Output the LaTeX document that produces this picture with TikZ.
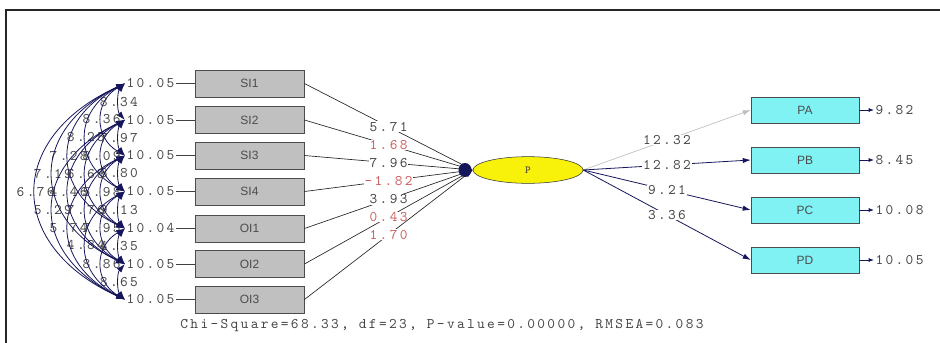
\documentclass[tikz,border=0pt]{standalone}
\usepackage{fontspec}
\setmainfont{Liberation Sans}
\newfontfamily\lisfont[LetterSpace=16]{Latin Modern Mono}
\usetikzlibrary{arrows.meta,shapes.geometric}

\definecolor{lisnavy}{RGB}{22,22,92}
\definecolor{lisgray}{RGB}{70,70,70}
\definecolor{lisred}{RGB}{205,95,95}
\definecolor{obsfill}{RGB}{192,192,192}
\definecolor{indfill}{RGB}{128,242,244}
\definecolor{latfill}{RGB}{248,242,10}

\tikzset{
  obsbox/.style={draw=black!70, fill=obsfill, minimum width=82pt, minimum height=20pt, inner sep=0pt, font=\fontsize{9}{10}\selectfont, text=black!70},
  indbox/.style={draw=black!70, fill=indfill, minimum width=81pt, minimum height=19.5pt, inner sep=0pt, font=\fontsize{9}{10}\selectfont, text=black!70},
  latent/.style={ellipse, draw=black!80, fill=latfill, minimum width=82.5pt, minimum height=20pt, inner sep=0pt, font=\lisfont\fontsize{8}{9}\selectfont, text=black!75},
  errlbl/.style={font=\lisfont\fontsize{11}{12}\selectfont, text=lisgray, inner sep=1pt},
  pathlbl/.style={font=\lisfont\fontsize{11}{12}\selectfont, text=lisgray, fill=white, inner sep=0.5pt},
  redlbl/.style={pathlbl, text=lisred},
  covlbl/.style={font=\lisfont\fontsize{11}{12}\selectfont, text=lisgray, inner sep=0pt},
  covarc/.style={draw=lisnavy, line width=0.6pt, {Latex[length=6.5pt,width=4.5pt]}-{Latex[length=6.5pt,width=4.5pt]}},
  formarrow/.style={draw=black!85, line width=0.5pt, -{Latex[length=6pt,width=4pt]}, color=black!85},
  loadarrow/.style={draw=lisnavy, line width=0.6pt, -{Latex[length=6pt,width=4pt]}}
}

\begin{document}
\begin{tikzpicture}[x=0.75pt,y=0.75pt,yscale=-1,xscale=1]
\useasboundingbox (0,0) rectangle (940,343);

%Frame
\draw [line width=1.5pt, color=black!85] (940,10) -- (6,10) -- (6,343) ;

%Shape: Rectangle (observed)
\node [obsbox] (si1) at (249.5,83.5) {SI1};
\node [obsbox] (si2) at (249.5,120) {SI2};
\node [obsbox] (si3) at (249.5,155.5) {SI3};
\node [obsbox] (si4) at (249.5,191.5) {SI4};
\node [obsbox] (oi1) at (249.5,228.5) {OI1};
\node [obsbox] (oi2) at (249.5,264) {OI2};
\node [obsbox] (oi3) at (249.5,299.5) {OI3};

%Shape: Rectangle (indicators)
\node [indbox] (pa) at (805,110) {PA};
\node [indbox] (pb) at (805,160) {PB};
\node [indbox] (pc) at (805,210) {PC};
\node [indbox] (pd) at (805,260) {PD};

%Shape: Ellipse
\node [latent] (p) at (528,170) {P};

% Text Node (error variances, left)
\node [errlbl, anchor=east] (e1) at (176,83.5) {10.05};
\node [errlbl, anchor=east] (e2) at (176,120) {10.05};
\node [errlbl, anchor=east] (e3) at (176,155.5) {10.05};
\node [errlbl, anchor=east] (e4) at (176,191.5) {10.05};
\node [errlbl, anchor=east] (e5) at (176,228.5) {10.04};
\node [errlbl, anchor=east] (e6) at (176,264) {10.05};
\node [errlbl, anchor=east] (e7) at (176,299.5) {10.05};

\draw [color=black!75] (e1.east) -- (si1.west) ;
\draw [color=black!75] (e2.east) -- (si2.west) ;
\draw [color=black!75] (e3.east) -- (si3.west) ;
\draw [color=black!75] (e4.east) -- (si4.west) ;
\draw [color=black!75] (e5.east) -- (oi1.west) ;
\draw [color=black!75] (e6.east) -- (oi2.west) ;
\draw [color=black!75] (e7.east) -- (oi3.west) ;

%Curves (error covariances)
\draw [covarc] (e1.west) .. controls +(-8,9) and +(-8,-9) .. (e2.west) node [covlbl, pos=0.5] {8.34};
\draw [covarc] (e2.west) .. controls +(-8,9) and +(-8,-9) .. (e3.west) node [covlbl, pos=0.5] {7.97};
\draw [covarc] (e3.west) .. controls +(-8,9) and +(-8,-9) .. (e4.west) node [covlbl, pos=0.5] {8.80};
\draw [covarc] (e4.west) .. controls +(-8,9) and +(-8,-9) .. (e5.west) node [covlbl, pos=0.5] {9.13};
\draw [covarc] (e5.west) .. controls +(-8,9) and +(-8,-9) .. (e6.west) node [covlbl, pos=0.5] {4.35};
\draw [covarc] (e6.west) .. controls +(-8,9) and +(-8,-9) .. (e7.west) node [covlbl, pos=0.5] {8.65};
\draw [covarc] (e1.west) .. controls +(-31,18) and +(-31,-18) .. (e3.west) node [covlbl, pos=0.5] {8.36};
\draw [covarc] (e2.west) .. controls +(-31,18) and +(-31,-18) .. (e4.west) node [covlbl, pos=0.5] {8.09};
\draw [covarc] (e3.west) .. controls +(-31,18) and +(-31,-18) .. (e5.west) node [covlbl, pos=0.5] {5.98};
\draw [covarc] (e4.west) .. controls +(-31,18) and +(-31,-18) .. (e6.west) node [covlbl, pos=0.5] {7.95};
\draw [covarc] (e5.west) .. controls +(-31,18) and +(-31,-18) .. (e7.west) node [covlbl, pos=0.5] {8.86};
\draw [covarc] (e1.west) .. controls +(-52,27) and +(-52,-27) .. (e4.west) node [covlbl, pos=0.5] {8.25};
\draw [covarc] (e2.west) .. controls +(-52,27) and +(-52,-27) .. (e5.west) node [covlbl, pos=0.5] {6.65};
\draw [covarc] (e3.west) .. controls +(-52,27) and +(-52,-27) .. (e6.west) node [covlbl, pos=0.5] {7.76};
\draw [covarc] (e4.west) .. controls +(-52,27) and +(-52,-27) .. (e7.west) node [covlbl, pos=0.5] {4.84};
\draw [covarc] (e1.west) .. controls +(-75,36) and +(-75,-36) .. (e5.west) node [covlbl, pos=0.5] {7.28};
\draw [covarc] (e2.west) .. controls +(-75,36) and +(-75,-36) .. (e6.west) node [covlbl, pos=0.5] {4.46};
\draw [covarc] (e3.west) .. controls +(-75,36) and +(-75,-36) .. (e7.west) node [covlbl, pos=0.5] {5.74};
\draw [covarc] (e1.west) .. controls +(-96,45) and +(-96,-45) .. (e6.west) node [covlbl, pos=0.5] {7.19};
\draw [covarc] (e2.west) .. controls +(-96,45) and +(-96,-45) .. (e7.west) node [covlbl, pos=0.5] {5.29};
\draw [covarc] (e1.west) .. controls +(-119,54) and +(-119,-54) .. (e7.west) node [covlbl, pos=0.5] {6.76};

%Straight Lines (formative paths)
\draw [formarrow] (si1.east) -- (p.west) node [pathlbl, pos=0.5] {5.71};
\draw [formarrow] (si2.east) -- (p.west) node [redlbl, pos=0.5] {1.68};
\draw [formarrow] (si3.east) -- (p.west) node [pathlbl, pos=0.5] {7.96};
\draw [formarrow] (si4.east) -- (p.west) node [redlbl, pos=0.5] {-1.82};
\draw [formarrow] (oi1.east) -- (p.west) node [pathlbl, pos=0.5] {3.93};
\draw [formarrow] (oi2.east) -- (p.west) node [redlbl, pos=0.5] {0.43};
\draw [formarrow] (oi3.east) -- (p.west) node [redlbl, pos=0.5] {1.70};
\fill [color=lisnavy] (465,170) circle [x radius=6.5, y radius=7] ;

%Straight Lines (loadings)
\draw [loadarrow, draw=black!22, -{Latex[length=6pt,width=4pt,color=black!25]}] (p.east) -- (pa.west) node [pathlbl, pos=0.5] {12.32};
\draw [loadarrow] (p.east) -- (pb.west) node [pathlbl, pos=0.5] {12.82};
\draw [loadarrow] (p.east) -- (pc.west) node [pathlbl, pos=0.5] {9.21};
\draw [loadarrow] (p.east) -- (pd.west) node [pathlbl, pos=0.5] {3.36};

% Text Node (error variances, right)
\node [errlbl, anchor=west] (ea) at (874,110) {9.82};
\node [errlbl, anchor=west] (eb) at (874,160) {8.45};
\node [errlbl, anchor=west] (ec) at (874,210) {10.08};
\node [errlbl, anchor=west] (ed) at (874,260) {10.05};
\draw [loadarrow, -{Latex[length=4pt,width=3pt]}] (pa.east) -- (ea.west) ;
\draw [loadarrow, -{Latex[length=4pt,width=3pt]}] (pb.east) -- (eb.west) ;
\draw [loadarrow, -{Latex[length=4pt,width=3pt]}] (pc.east) -- (ec.west) ;
\draw [loadarrow, -{Latex[length=4pt,width=3pt]}] (pd.east) -- (ed.west) ;

% Text Node
\node [errlbl] (fit) at (442,326) {Chi-Square=68.33, df=23, P-value=0.00000, RMSEA=0.083};

\end{tikzpicture}
\end{document}
